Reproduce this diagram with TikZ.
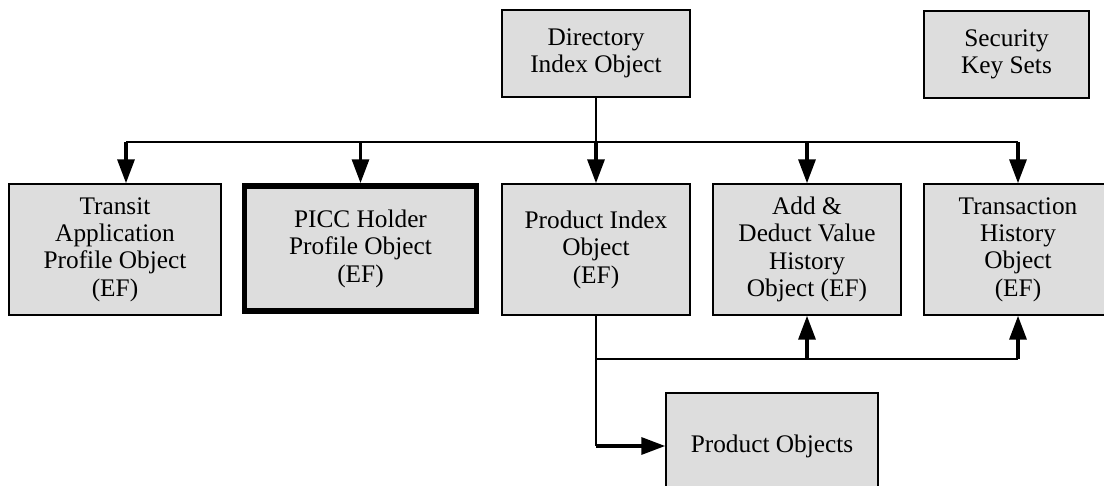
\documentclass[tikz,border=0pt]{standalone}
\usepackage{fontspec}
\setmainfont{Liberation Serif}
\usepackage{tikz}
\usetikzlibrary{arrows.meta}
\definecolor{boxgray}{RGB}{221,221,221}
\tikzset{
  obj/.style={draw, fill=boxgray, line width=1pt, align=center, inner sep=0pt,
    font=\fontsize{18}{19.5}\selectfont, minimum width=4.7cm, minimum height=3.275cm},
  arr/.style={-{Triangle[length=17pt,width=12pt]}, line width=2.5pt},
  wire/.style={line width=1pt}
}

\begin{document}
\begin{tikzpicture}[x=0.025cm,y=-0.025cm]
  \useasboundingbox (0,0) rectangle (1104,486);
  {
    % top row
    \node[obj, minimum height=2.175cm] (dir) at (596,53.5) {Directory\\Index Object};%
    \node[obj, minimum width=4.125cm, minimum height=2.175cm] (sec) at (1006.5,54.5) {Security\\Key Sets};%
  }
  {
    % objects (EF)
    \node[obj, minimum width=5.3cm] (transit) at (115,249.5) {Transit\\Application\\Profile Object\\(EF)};%
    \node[obj, line width=4pt, minimum width=5.8cm, minimum height=3.125cm] (picc) at (360.5,248.5) {PICC Holder\\Profile Object\\(EF)};%
    \node[obj] (prodidx) at (596,249.5) {Product Index\\Object\\(EF)};%
    \node[obj] (adv) at (807,249.5) {Add \&\\Deduct Value\\History\\Object (EF)};%
    \node[obj] (trans) at (1018,249.5) {Transaction\\History\\Object\\(EF)};%
    \node[obj, minimum width=5.3cm, minimum height=2.65cm] (prodobj) at (772,446) {Product Objects};%
  }
  {
    % bus from the directory
    \coordinate (busL) at (126,142);%
    \coordinate (busR) at (1018,142);%
    \draw[wire] (dir.south) -- (dir.south |- busL);%
    \draw[wire] (busL) -- (busR);%
    \draw[arr] (busL) -- (busL |- transit.north);%
    \draw[arr] (picc.north |- busL) -- (picc.north);%
    \draw[arr] (prodidx.north |- busL) -- (prodidx.north);%
    \draw[arr] (adv.north |- busL) -- (adv.north);%
    \draw[arr] (busR) -- (trans.north);%
  }
  {
    % from the product index
    \coordinate (lowR) at (1018,359);%
    \coordinate (turn) at (596,446);%
    \draw[wire] (prodidx.south) -- (turn);%
    \draw[wire] (prodidx.south |- lowR) -- (lowR);%
    \draw[arr] (adv.south |- lowR) -- (adv.south);%
    \draw[arr] (lowR) -- (trans.south);%
    \draw[arr] (turn) -- (prodobj.west);%
  }
\end{tikzpicture}
\end{document}
